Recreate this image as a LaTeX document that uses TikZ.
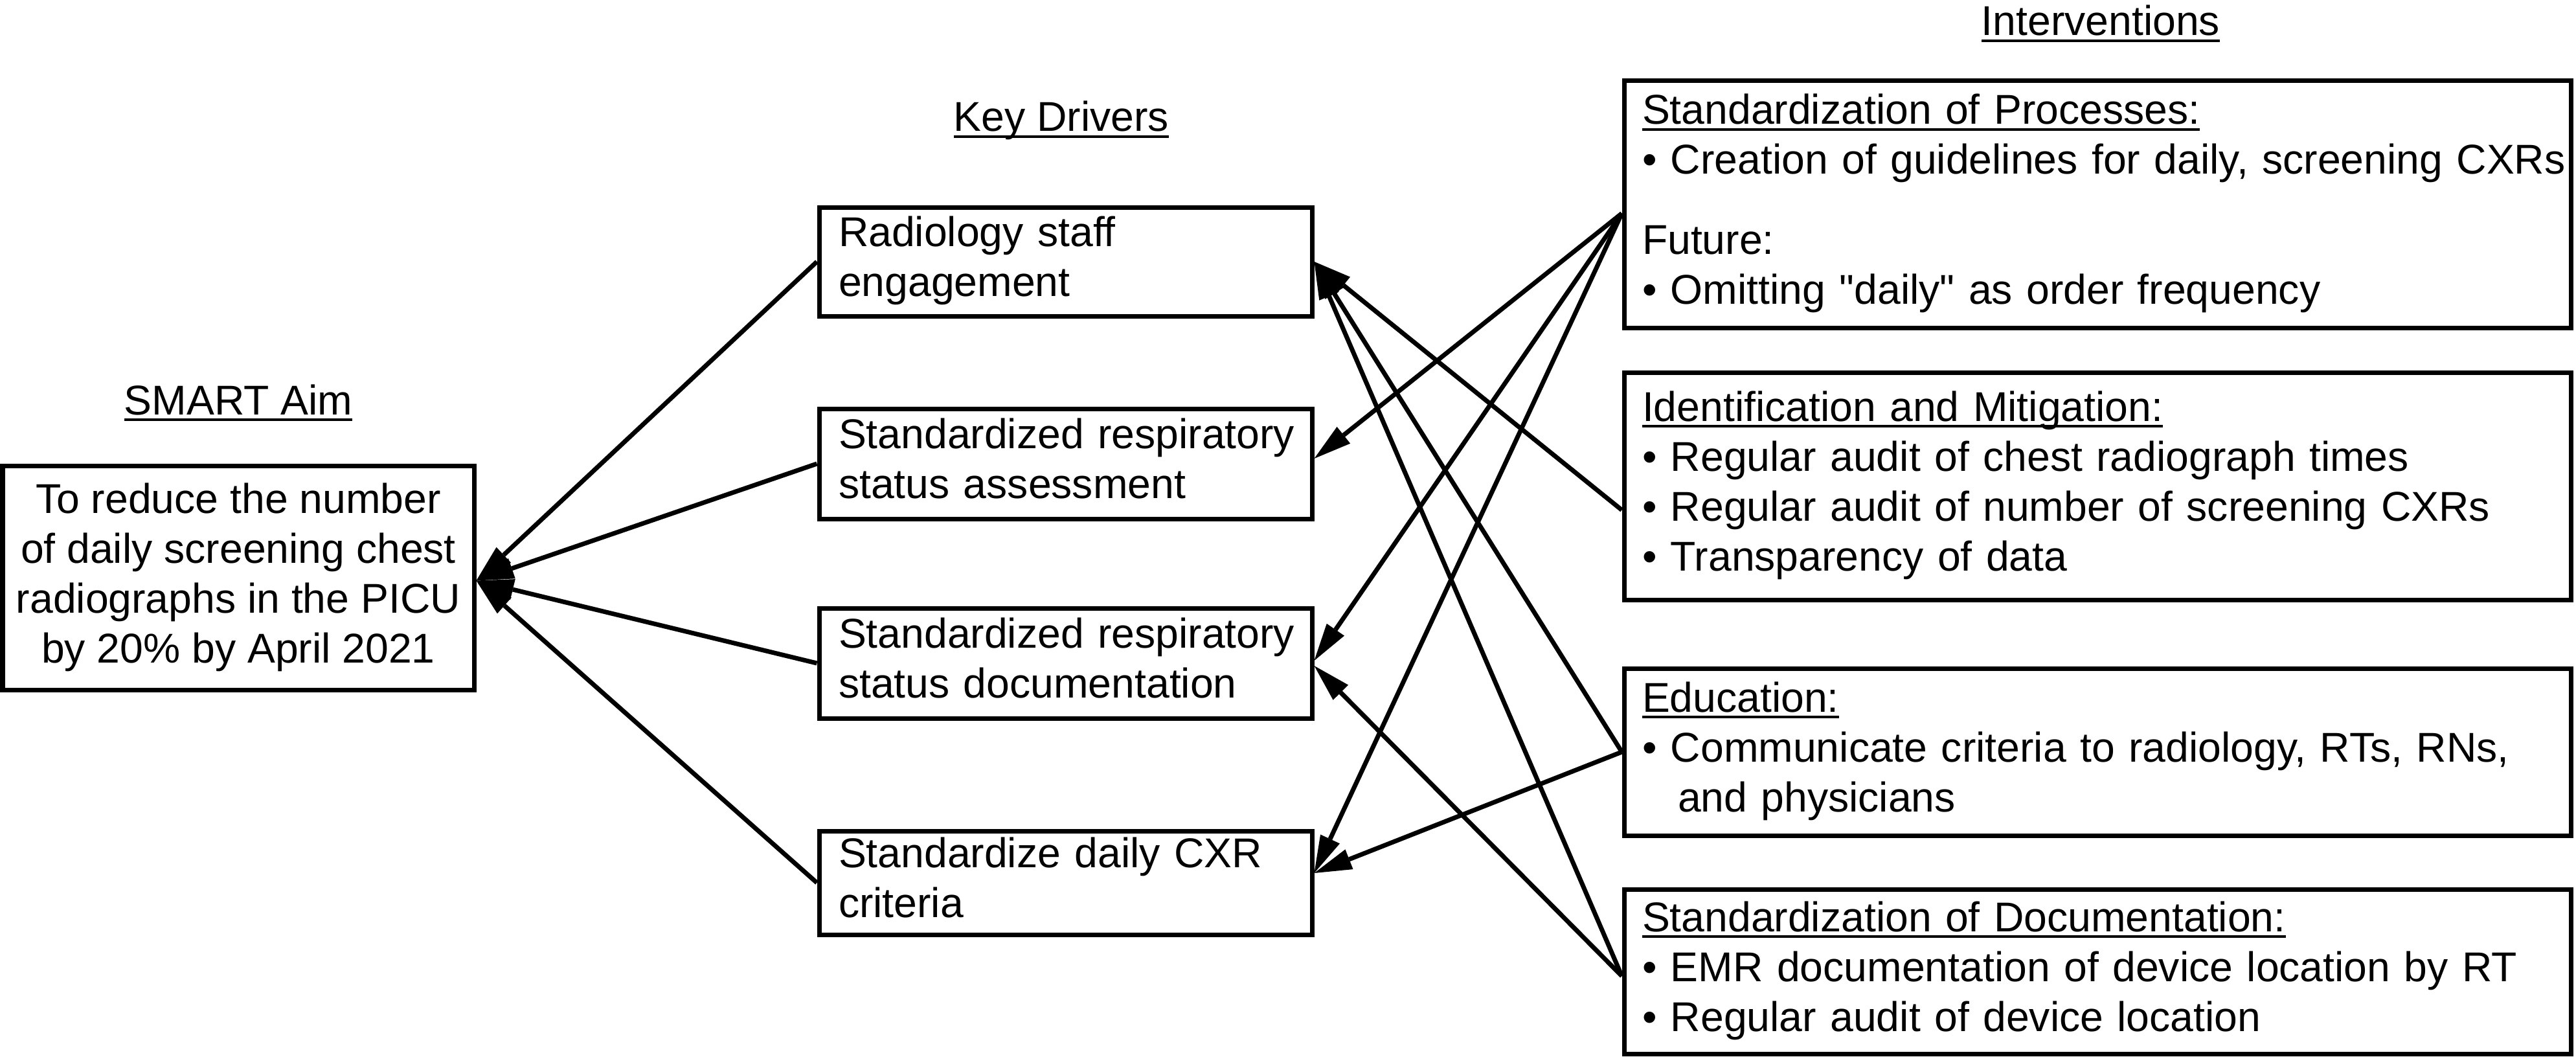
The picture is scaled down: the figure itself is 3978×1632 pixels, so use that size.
\documentclass[tikz,border=0pt]{standalone}
\usepackage{fontspec}
\setmainfont{Liberation Sans}
\newfontfamily\plainquote{Liberation Sans}
\usetikzlibrary{arrows.meta}
\newsavebox\ulsave
\newcommand\myul[1]{\sbox\ulsave{#1}\rlap{\rule[-10pt]{\wd\ulsave}{4pt}}\usebox\ulsave}
\newcommand\sq{{\plainquote"}}
\begin{document}
\begin{tikzpicture}[x=1pt,y=-1pt,
  every node/.style={font=\fontsize{64.3pt}{77pt}\selectfont, inner sep=0pt},
  box/.style={draw, line width=7pt, rectangle},
  kd/.style={box, minimum width=761pt, text width=701pt, inner xsep=30pt, inner ysep=2pt, align=left},
  iv/.style={box, minimum width=1462pt, text width=1406pt, inner xsep=28pt, inner ysep=2pt, align=left},
  link/.style={line width=7pt, -{Triangle[length=58pt,width=33pt,line width=0pt]}},
  title/.style={anchor=base}]
\useasboundingbox (0,0) rectangle (3978,1632);

% titles
\node[title] (tAim) at (368,640) {\myul{SMART Aim}};
\node[title] (tKD) at (1639,203) {\myul{Key Drivers}};
\node[title] (tIV) at (3244,55) {\myul{Interventions}};

% aim
\node[box, minimum width=728pt, minimum height=346pt, align=center] (aim) at (368,892.5)
  {\strut To reduce the number\\of daily screening chest\\radiographs in the PICU\\by 20\% by April 2021\strut};

% key drivers
\node[kd, minimum height=168pt] (kd1) at (1645.5,404) {\strut Radiology staff\\engagement\strut};
\node[kd, minimum height=170pt] (kd2) at (1645.5,716) {\strut\mbox{Standardized respiratory}\\status assessment\strut};
\node[kd, minimum height=170pt] (kd3) at (1645.5,1024) {\strut\mbox{Standardized respiratory}\\status documentation\strut};
\node[kd, minimum height=160pt] (kd4) at (1645.5,1363) {\strut Standardize daily CXR\\criteria\strut};

% interventions
\node[iv, minimum height=381pt] (iv1) at (3239,315.5)
  {\strut\myul{Standardization of Processes:}\\
   \mbox{• Creation of guidelines for daily, screening CXRs}\\[47pt]
   Future:\\
   \mbox{• Omitting \sq daily\sq\ as order frequency}\strut};
\node[iv, minimum height=351pt] (iv2) at (3239,750.5)
  {\strut\myul{Identification and Mitigation:}\\
   \mbox{• Regular audit of chest radiograph times}\\
   \mbox{• Regular audit of number of screening CXRs}\\
   \mbox{• Transparency of data}\strut};
\node[iv, minimum height=258pt] (iv3) at (3239,1161)
  {\strut\myul{Education:}\\
   \mbox{• Communicate criteria to radiology, RTs, RNs,}\\
   \hspace*{55pt}and physicians\strut};
\node[iv, minimum height=254pt] (iv4) at (3239,1500)
  {\strut\myul{Standardization of Documentation:}\\
   \mbox{• EMR documentation of device location by RT}\\
   \mbox{• Regular audit of device location}\strut};

% drivers -> aim
\draw[link] (kd1.west) -- ([yshift=-4pt]aim.east);
\draw[link] (kd2.west) -- ([yshift=-4pt]aim.east);
\draw[link] (kd3.west) -- ([yshift=-4pt]aim.east);
\draw[link] (kd4.west) -- ([yshift=-4pt]aim.east);

% interventions -> drivers
\draw[link] ([yshift=-14pt]iv1.west) -- ([yshift=8pt]kd2.east);
\draw[link] ([yshift=-14pt]iv1.west) -- ([yshift=4pt]kd3.east);
\draw[link] ([yshift=-14pt]iv1.west) -- ([yshift=15pt]kd4.east);
\draw[link] ([yshift=-37pt]iv2.west) -- (kd1.east);
\draw[link] (iv3.west) -- (kd1.east);
\draw[link] (iv3.west) -- ([yshift=15pt]kd4.east);
\draw[link] ([yshift=-7pt]iv4.west) -- (kd1.east);
\draw[link] ([yshift=-7pt]iv4.west) -- ([yshift=-4pt]kd3.east);
\end{tikzpicture}
\end{document}
